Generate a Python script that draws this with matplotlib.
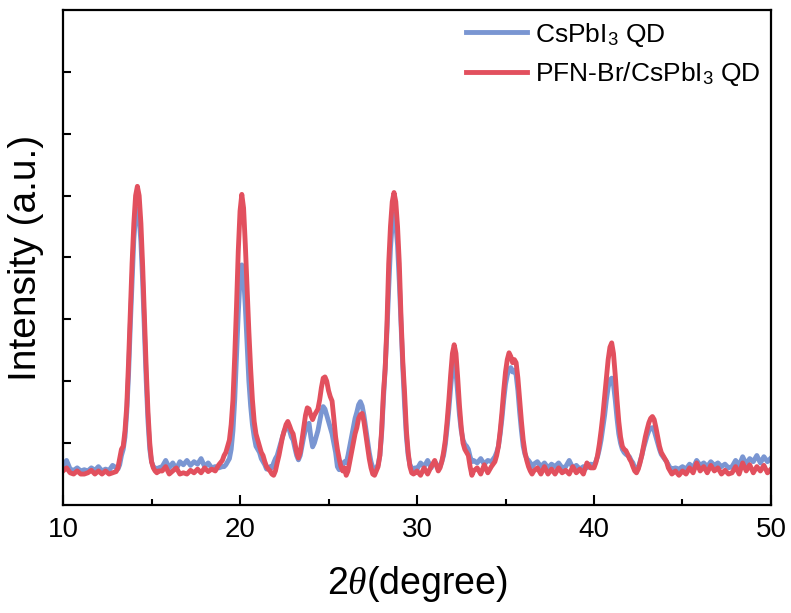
import matplotlib
matplotlib.use('Agg')
import matplotlib.pyplot as plt
from matplotlib.ticker import MultipleLocator

plt.rcParams['font.family'] = ['Liberation Sans', 'DejaVu Sans']
plt.rcParams['mathtext.fontset'] = 'custom'
plt.rcParams['mathtext.rm'] = 'Liberation Sans'
plt.rcParams['mathtext.it'] = 'Liberation Serif:italic'

# 2theta sampling positions (degree)
two_theta = [
    10.0, 10.2, 10.4, 10.6, 10.8, 11.0, 11.2, 11.4, 11.6, 11.8, 12.0, 12.2, 12.4, 12.6, 12.8, 13.0,
    13.1, 13.2, 13.3, 13.4, 13.5, 13.6, 13.7, 13.8, 13.9, 14.0, 14.1, 14.2, 14.3, 14.4, 14.5, 14.6,
    14.7, 14.8, 14.9, 15.0, 15.1, 15.2, 15.3, 15.4,
    15.6, 15.8, 16.0, 16.2, 16.4, 16.6, 16.8, 17.0, 17.2, 17.4, 17.6, 17.8, 18.0, 18.2, 18.4, 18.6,
    18.8, 19.0,
    19.1, 19.2, 19.3, 19.4, 19.5, 19.6, 19.7, 19.8, 19.9, 20.0, 20.1, 20.2, 20.3, 20.4, 20.5, 20.6,
    20.7, 20.8, 20.9, 21.0, 21.1, 21.2, 21.3, 21.4, 21.5, 21.6,
    21.7, 21.8, 21.9, 22.0, 22.1, 22.2, 22.3, 22.4, 22.5, 22.6, 22.7, 22.8, 22.9, 23.0, 23.1, 23.2,
    23.3, 23.4, 23.5, 23.6, 23.7, 23.8, 23.9, 24.0, 24.1, 24.2, 24.3, 24.4, 24.5, 24.6, 24.7, 24.8,
    24.9, 25.0, 25.1, 25.2, 25.3, 25.4, 25.5, 25.6, 25.7, 25.8, 25.9, 26.0, 26.1, 26.2, 26.3, 26.4,
    26.5, 26.6, 26.7, 26.8, 26.9, 27.0, 27.1, 27.2, 27.3, 27.4, 27.5, 27.6,
    27.7, 27.8, 27.9, 28.0, 28.1, 28.2, 28.3, 28.4, 28.5, 28.6, 28.7, 28.8, 28.9, 29.0, 29.1, 29.2,
    29.3, 29.4, 29.5, 29.6, 29.7, 29.8, 29.9,
    30.0, 30.2, 30.4, 30.6, 30.8, 31.0, 31.2,
    31.3, 31.4, 31.5, 31.6, 31.7, 31.8, 31.9, 32.0, 32.1, 32.2, 32.3, 32.4, 32.5, 32.6, 32.7, 32.8,
    32.9, 33.0, 33.1, 33.2,
    33.4, 33.6, 33.8, 34.0, 34.2, 34.4,
    34.5, 34.6, 34.7, 34.8, 34.9, 35.0, 35.1, 35.2, 35.3, 35.4, 35.5, 35.6, 35.7, 35.8, 35.9, 36.0,
    36.1, 36.2, 36.3, 36.4, 36.5, 36.6,
    36.8, 37.0, 37.2, 37.4, 37.6, 37.8, 38.0, 38.2, 38.4, 38.6, 38.8, 39.0, 39.2, 39.4, 39.6, 39.8,
    40.0, 40.1, 40.2, 40.3, 40.4, 40.5, 40.6, 40.7, 40.8, 40.9, 41.0, 41.1, 41.2, 41.3, 41.4, 41.5,
    41.6, 41.7, 41.8, 41.9, 42.0, 42.1, 42.2, 42.3, 42.4, 42.5, 42.6, 42.7, 42.8, 42.9, 43.0, 43.1,
    43.2, 43.3, 43.4, 43.5, 43.6, 43.7, 43.8, 43.9, 44.0, 44.1, 44.2, 44.3, 44.4,
    44.6, 44.8, 45.0, 45.2, 45.4, 45.6, 45.8, 46.0, 46.2, 46.4, 46.6, 46.8, 47.0, 47.2, 47.4, 47.6,
    47.8, 48.0, 48.2, 48.4, 48.6, 48.8, 49.0, 49.2, 49.4, 49.6, 49.8, 50.0,
]

# CsPbI3 QD (blue)
cspbi3 = [
    0.62, 0.72, 0.58, 0.56, 0.60, 0.55, 0.57, 0.55, 0.60, 0.56, 0.62, 0.55, 0.58, 0.56, 0.64, 0.60,
    0.58, 0.65, 0.80, 0.90, 1.10, 1.50, 2.10, 2.90, 3.60, 4.30, 4.68, 4.78, 4.65, 4.25, 3.60, 2.80,
    2.00, 1.35, 0.90, 0.70, 0.62, 0.60, 0.58, 0.60,
    0.62, 0.72, 0.60, 0.68, 0.58, 0.70, 0.65, 0.72, 0.64, 0.70, 0.66, 0.75, 0.62, 0.68, 0.60, 0.62,
    0.60, 0.62,
    0.62, 0.65, 0.70, 0.75, 0.90, 1.20, 1.70, 2.40, 3.10, 3.65, 3.88, 3.70, 3.20, 2.60, 2.00, 1.60,
    1.30, 1.10, 0.95, 0.90, 0.85, 0.75, 0.70, 0.65, 0.58, 0.60,
    0.62, 0.60, 0.68, 0.75, 0.80, 0.90, 1.00, 1.10, 1.20, 1.25, 1.27, 1.20, 1.10, 1.05, 0.92, 0.80,
    0.73, 0.80, 0.95, 1.10, 1.22, 1.30, 1.32, 1.10, 0.94, 1.00, 1.10, 1.20, 1.35, 1.50, 1.59, 1.55,
    1.45, 1.35, 1.25, 1.15, 1.00, 0.85, 0.62, 0.57, 0.60, 0.65, 0.70, 0.68, 0.80, 0.95, 1.10, 1.25,
    1.40, 1.50, 1.62, 1.67, 1.60, 1.45, 1.25, 1.05, 0.85, 0.70, 0.60, 0.57,
    0.60, 0.65, 0.80, 1.15, 1.70, 2.20, 2.80, 3.50, 4.15, 4.55, 4.70, 4.55, 4.20, 3.60, 2.90, 2.20,
    1.60, 1.10, 0.80, 0.65, 0.60, 0.56, 0.60,
    0.58, 0.68, 0.62, 0.72, 0.60, 0.70, 0.62,
    0.62, 0.70, 0.80, 0.98, 1.25, 1.55, 1.90, 2.20, 2.27, 2.15, 1.80, 1.45, 1.20, 1.05, 0.98, 0.95,
    0.90, 0.78, 0.70, 0.72,
    0.68, 0.75, 0.66, 0.72, 0.70, 0.78,
    0.85, 0.95, 1.15, 1.40, 1.70, 1.95, 2.10, 2.20, 2.22, 2.15, 2.18, 2.10, 1.85, 1.50, 1.20, 0.95,
    0.82, 0.75, 0.72, 0.68, 0.62, 0.66,
    0.70, 0.62, 0.68, 0.60, 0.66, 0.62, 0.68, 0.60, 0.62, 0.72, 0.60, 0.64, 0.58, 0.62, 0.60, 0.66,
    0.65, 0.70, 0.78, 0.90, 1.05, 1.25, 1.45, 1.70, 1.90, 2.02, 2.05, 1.95, 1.70, 1.40, 1.15, 1.00,
    0.90, 0.85, 0.82, 0.80, 0.78, 0.72, 0.68, 0.60, 0.55, 0.60, 0.70, 0.80, 0.92, 1.02, 1.12, 1.20,
    1.24, 1.25, 1.20, 1.10, 1.00, 0.90, 0.82, 0.78, 0.74, 0.70, 0.65, 0.60, 0.58,
    0.60, 0.58, 0.62, 0.58, 0.66, 0.60, 0.72, 0.64, 0.68, 0.62, 0.70, 0.64, 0.68, 0.62, 0.66, 0.60,
    0.62, 0.72, 0.64, 0.78, 0.66, 0.75, 0.70, 0.80, 0.68, 0.78, 0.70, 0.76,
]

# PFN-Br/CsPbI3 QD (red)
pfn_br = [
    0.55, 0.60, 0.52, 0.50, 0.55, 0.50, 0.50, 0.52, 0.56, 0.50, 0.55, 0.50, 0.55, 0.50, 0.52, 0.54,
    0.60, 0.75, 0.90, 0.95, 1.20, 1.60, 2.30, 3.10, 3.90, 4.55, 5.00, 5.15, 5.00, 4.55, 3.85, 3.00,
    2.20, 1.50, 1.00, 0.70, 0.60, 0.55, 0.52, 0.55,
    0.55, 0.62, 0.50, 0.55, 0.60, 0.50, 0.52, 0.50, 0.56, 0.52, 0.58, 0.52, 0.60, 0.54, 0.58, 0.55,
    0.65, 0.72,
    0.80, 0.85, 0.95, 1.05, 1.30, 1.70, 2.40, 3.20, 4.10, 4.75, 5.02, 4.80, 4.20, 3.50, 2.80, 2.20,
    1.70, 1.35, 1.15, 1.05, 0.95, 0.85, 0.80, 0.70, 0.62, 0.58,
    0.55, 0.50, 0.48, 0.55, 0.68, 0.80, 0.95, 1.10, 1.20, 1.30, 1.35, 1.28, 1.20, 1.15, 1.00, 0.85,
    0.76, 0.85, 1.05, 1.25, 1.45, 1.57, 1.55, 1.45, 1.38, 1.45, 1.50, 1.55, 1.70, 1.90, 2.05, 2.07,
    2.00, 1.85, 1.75, 1.68, 1.40, 1.10, 0.90, 0.75, 0.62, 0.55, 0.60, 0.48, 0.55, 0.70, 0.85, 1.00,
    1.15, 1.25, 1.40, 1.46, 1.48, 1.35, 1.15, 0.95, 0.75, 0.60, 0.50, 0.48,
    0.55, 0.62, 0.80, 1.20, 1.80, 2.20, 2.90, 3.90, 4.50, 4.90, 5.05, 4.90, 4.50, 3.90, 3.00, 2.30,
    1.80, 1.20, 0.85, 0.62, 0.52, 0.50, 0.52,
    0.55, 0.48, 0.60, 0.50, 0.62, 0.72, 0.55,
    0.60, 0.70, 0.85, 1.05, 1.35, 1.70, 2.10, 2.45, 2.59, 2.45, 2.05, 1.60, 1.25, 1.00, 0.90, 0.85,
    0.80, 0.62, 0.48, 0.55,
    0.60, 0.50, 0.65, 0.52, 0.62, 0.70,
    0.80, 0.95, 1.20, 1.50, 1.85, 2.15, 2.35, 2.46, 2.40, 2.30, 2.35, 2.30, 2.05, 1.70, 1.35, 1.05,
    0.85, 0.72, 0.62, 0.55, 0.50, 0.55,
    0.60, 0.50, 0.62, 0.50, 0.58, 0.50, 0.60, 0.52, 0.56, 0.50, 0.62, 0.52, 0.58, 0.50, 0.68, 0.60,
    0.60, 0.68, 0.80, 0.98, 1.20, 1.45, 1.75, 2.05, 2.35, 2.55, 2.62, 2.45, 2.10, 1.70, 1.35, 1.10,
    0.95, 0.90, 0.88, 0.82, 0.75, 0.70, 0.62, 0.55, 0.52, 0.58, 0.68, 0.80, 0.95, 1.10, 1.22, 1.33,
    1.40, 1.43, 1.38, 1.25, 1.10, 0.95, 0.85, 0.80, 0.75, 0.70, 0.60, 0.55, 0.50,
    0.55, 0.48, 0.55, 0.50, 0.60, 0.52, 0.68, 0.55, 0.62, 0.52, 0.64, 0.55, 0.60, 0.50, 0.56, 0.50,
    0.52, 0.62, 0.50, 0.68, 0.55, 0.65, 0.52, 0.62, 0.55, 0.64, 0.52, 0.58,
]

labels = ['CsPbI$_3$ QD', 'PFN-Br/CsPbI$_3$ QD']
colors = ['#7A96D2', '#E2505E']

fig = plt.figure(figsize=(7.91, 6.13), dpi=100)
ax = fig.add_axes([0.0797, 0.1762, 0.895, 0.8075])

ax.plot(two_theta, cspbi3, color=colors[0], lw=3.5, label=labels[0])
ax.plot(two_theta, pfn_br, color=colors[1], lw=3.5, label=labels[1])

ax.set_xlim(10, 50)
ax.set_ylim(0, 8)
ax.xaxis.set_major_locator(MultipleLocator(10))
ax.xaxis.set_minor_locator(MultipleLocator(5))
ax.set_yticks([1, 2, 3, 4, 5, 6, 7])
ax.set_yticklabels([])
ax.tick_params(axis='both', which='both', direction='in', width=1.5, top=False, right=False)
ax.tick_params(axis='x', which='major', length=7, labelsize=20, pad=9)
ax.tick_params(axis='x', which='minor', length=4.5)
ax.tick_params(axis='y', which='major', length=6)
for sp in ax.spines.values():
    sp.set_linewidth(1.6)

ax.set_xlabel(r'2$\theta$(degree)', fontsize=27)
ax.set_ylabel('Intensity (a.u.)', fontsize=28)
ax.xaxis.set_label_coords(0.5, -0.12)
ax.yaxis.set_label_coords(-0.027, 0.5)

ax.legend(loc='upper right', bbox_to_anchor=(1.0, 1.0), frameon=False, fontsize=19,
          handlelength=2.3, handletextpad=0.3, labelspacing=0.45, borderaxespad=0.0)

fig.savefig('out.png', dpi=100)
